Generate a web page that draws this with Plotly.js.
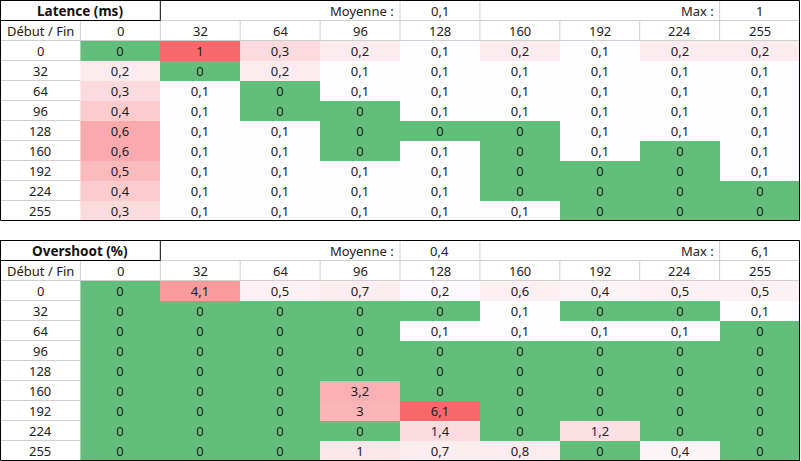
<!DOCTYPE html>
<html>
<head>
<meta charset="utf-8">
<script src="https://cdn.plot.ly/plotly-3.0.1.min.js"></script>
<style>
  html, body { margin: 0; padding: 0; background: #fff; }
  #graph { width: 801px; height: 461px; }
</style>
</head>
<body>
<div id="graph"></div>
<script>
// niveaux de gris (début / fin)
const levels = [0, 32, 64, 96, 128, 160, 192, 224, 255];

const latence = [
    [0,   1,   0.3, 0.2, 0.1, 0.2, 0.1, 0.2, 0.2],
    [0.2, 0,   0.2, 0.1, 0.1, 0.1, 0.1, 0.1, 0.1],
    [0.3, 0.1, 0,   0.1, 0.1, 0.1, 0.1, 0.1, 0.1],
    [0.4, 0.1, 0,   0,   0.1, 0.1, 0.1, 0.1, 0.1],
    [0.6, 0.1, 0.1, 0,   0,   0,   0.1, 0.1, 0.1],
    [0.6, 0.1, 0.1, 0,   0.1, 0,   0.1, 0,   0.1],
    [0.5, 0.1, 0.1, 0.1, 0.1, 0,   0,   0,   0.1],
    [0.4, 0.1, 0.1, 0.1, 0.1, 0,   0,   0,   0],
    [0.3, 0.1, 0.1, 0.1, 0.1, 0.1, 0,   0,   0]
];
const latenceMoyenne = 0.1;
const latenceMax = 1;

const overshoot = [
    [0, 4.1, 0.5, 0.7, 0.2, 0.6, 0.4, 0.5, 0.5],
    [0, 0,   0,   0,   0,   0.1, 0,   0,   0.1],
    [0, 0,   0,   0,   0.1, 0.1, 0.1, 0.1, 0],
    [0, 0,   0,   0,   0,   0,   0,   0,   0],
    [0, 0,   0,   0,   0,   0,   0,   0,   0],
    [0, 0,   0,   3.2, 0,   0,   0,   0,   0],
    [0, 0,   0,   3,   6.1, 0,   0,   0,   0],
    [0, 0,   0,   0,   1.4, 0,   1.2, 0,   0],
    [0, 0,   0,   1,   0.7, 0.8, 0,   0.4, 0]
];
const overshootMoyenne = 0.4;
const overshootMax = 6.1;

const GREEN = '#63BE7B', WHITE = '#FCFCFF', RED = '#F8696B';
const GRID = '#cfcfcf';
const FONT = 'Noto Sans, sans-serif';
const colW = 79.9, rowH = 20;

const fmt = v => String(v).replace('.', ',');

const shapes = [];
const annotations = [];

function line(x0, y0, x1, y1, color) {
    shapes.push({ type: 'line', xref: 'x', yref: 'y', x0: x0, y0: y0, x1: x1, y1: y1,
        line: { color: color, width: 1 } });
}

function label(x, y, text, opts) {
    annotations.push(Object.assign({
        xref: 'x', yref: 'y', x: x, y: y, text: text, showarrow: false,
        font: { family: FONT, size: 13, color: '#222' }
    }, opts || {}));
}

function buildTable(title, values, moyenne, max, top) {
    const xs = levels.map((_, i) => i + 1);
    const ys = levels.map((_, i) => top + 2 + i);
    const mid = 0.1 / max;

    // grille grise
    line(-0.5, top + 0.5, 9.5, top + 0.5, GRID);
    line(-0.5, top + 1.5, 9.5, top + 1.5, GRID);
    for (let i = 1; i < levels.length; i++) {
        line(-0.5, top + 1.5 + i, 0.5, top + 1.5 + i, GRID);
    }
    for (let c = 0; c < levels.length; c++) {
        line(c + 0.5, top + 0.5, c + 0.5, top + 1.5, GRID);
    }
    [4.5, 5.5, 8.5].forEach(x => line(x, top - 0.5, x, top + 0.5, GRID));

    // bordures noires
    shapes.push({ type: 'rect', xref: 'x', yref: 'y', x0: -0.5, x1: 1.5, y0: top - 0.5, y1: top + 0.5,
        line: { color: '#000', width: 1 } });
    shapes.push({ type: 'rect', xref: 'x', yref: 'y', x0: -0.5, x1: 9.5, y0: top - 0.5, y1: top + 10.5,
        line: { color: '#000', width: 1 } });

    // textes d'en-tête
    label(0.5, top, '<b>' + title + '</b>', { font: { family: FONT, size: 13.5, color: '#111' } });
    label(4.45, top, 'Moyenne :', { xanchor: 'right' });
    label(5, top, fmt(moyenne));
    label(8.45, top, 'Max :', { xanchor: 'right' });
    label(9, top, fmt(max));
    label(0, top + 1, 'Début / Fin');
    levels.forEach((lv, i) => {
        label(i + 1, top + 1, String(lv));
        label(0, top + 2 + i, String(lv));
    });

    return {
        type: 'heatmap',
        x: xs,
        y: ys,
        z: values,
        text: values.map(r => r.map(fmt)),
        texttemplate: '%{text}',
        textfont: { family: FONT, size: 13, color: '#222' },
        zmin: 0,
        zmax: max,
        colorscale: [[0, GREEN], [mid, WHITE], [1, RED]],
        showscale: false,
        hoverinfo: 'skip'
    };
}

const traces = [
    buildTable('Latence (ms)', latence, latenceMoyenne, latenceMax, 0),
    buildTable('Overshoot (%)', overshoot, overshootMoyenne, overshootMax, 12)
];

const x0 = -0.5 - 0.5 / colW;
const y0 = -0.5 - 0.5 / rowH;

const layout = {
    width: 801,
    height: 461,
    margin: { l: 0, r: 0, t: 0, b: 0 },
    paper_bgcolor: '#fff',
    plot_bgcolor: '#fff',
    showlegend: false,
    xaxis: { range: [x0, x0 + 801 / colW], visible: false, fixedrange: true },
    yaxis: { range: [y0 + 461 / rowH, y0], visible: false, fixedrange: true },
    shapes: shapes,
    annotations: annotations
};

Plotly.newPlot('graph', traces, layout, { staticPlot: true });
</script>
</body>
</html>
